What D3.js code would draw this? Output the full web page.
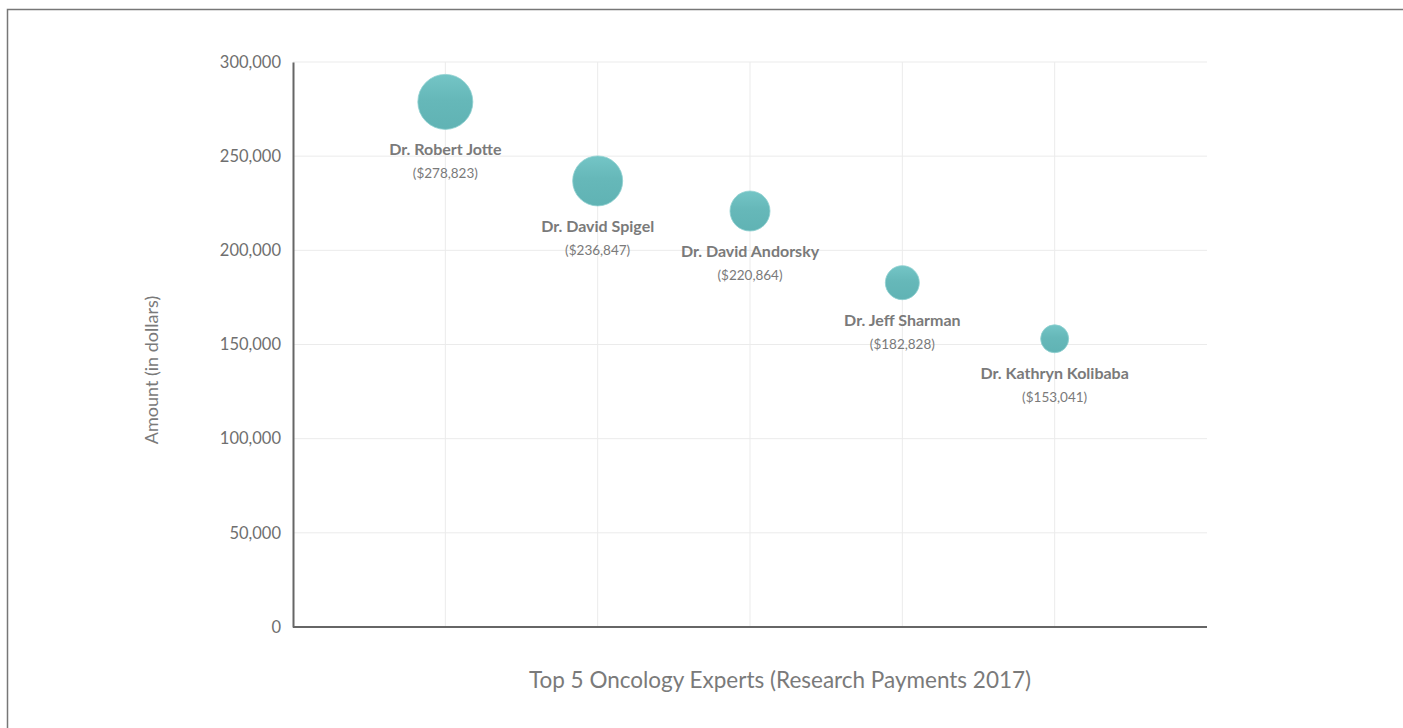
<!DOCTYPE html>
<html>
<head>
<meta charset="utf-8">
<script src="https://cdn.jsdelivr.net/npm/d3@7"></script>
<style>
  body { margin: 0; background: #fff; }
  svg { display: block; font-family: Lato, "Open Sans", sans-serif; }
  .tick text { fill: #6f6f6f; font-size: 16.5px; font-family: Lato, "Open Sans", sans-serif; }
  .name-label { fill: #7a7a7a; font-size: 16px; font-weight: bold; }
  .amount-label { fill: #7a7a7a; font-size: 13.5px; }
  .axis-title { fill: #7a7a7a; }
</style>
</head>
<body>
<div id="main"></div>
<script>
// chart data
var doctors = ['Dr. Robert Jotte', 'Dr. David Spigel', 'Dr. David Andorsky', 'Dr. Jeff Sharman', 'Dr. Kathryn Kolibaba'];
var amounts = [278823, 236847, 220864, 182828, 153041];
var bubbleWeights = [756, 625, 400, 289, 196];
var yTicks = [0, 50000, 100000, 150000, 200000, 250000, 300000];

// layout
var svgWidth = 1403;
var svgHeight = 728;
var padding = { t: 62, l: 293, r: 196, b: 101 };
var chartWidth = svgWidth - padding.l - padding.r;
var chartHeight = svgHeight - padding.t - padding.b;

var svg = d3.select('#main')
  .append('svg')
  .attr('width', svgWidth)
  .attr('height', svgHeight);

// frame (only left and top edges show inside the window)
svg.append('rect')
  .attr('x', 7.5)
  .attr('y', 9.5)
  .attr('width', svgWidth + 20)
  .attr('height', svgHeight + 20)
  .attr('fill', 'none')
  .attr('stroke', '#777')
  .attr('stroke-width', 1.5);

// bubble gradient
var grad = svg.append('defs').append('linearGradient')
  .attr('id', 'bubbleFill')
  .attr('x1', 0).attr('y1', 0).attr('x2', 0).attr('y2', 1);
grad.append('stop').attr('offset', '0%').attr('stop-color', '#74c5c6');
grad.append('stop').attr('offset', '45%').attr('stop-color', '#66b8b9');
grad.append('stop').attr('offset', '100%').attr('stop-color', '#60b3b4');

var chartG = svg.append('g')
  .attr('transform', 'translate(' + [padding.l, padding.t] + ')');

var xScale = d3.scaleLinear()
  .domain([0, doctors.length + 1])
  .range([0, chartWidth]);

var yScale = d3.scaleLinear()
  .domain([0, 300000])
  .range([chartHeight, 0]);

var rScale = d3.scaleSqrt()
  .domain([0, d3.max(bubbleWeights)])
  .range([0, 27.5]);

// grid lines
chartG.append('g')
  .selectAll('line')
  .data(yTicks.slice(1))
  .enter()
  .append('line')
  .attr('x1', 0)
  .attr('x2', chartWidth)
  .attr('y1', (d) => yScale(d))
  .attr('y2', (d) => yScale(d))
  .attr('stroke', '#ebebeb');

chartG.append('g')
  .selectAll('line')
  .data(doctors)
  .enter()
  .append('line')
  .attr('x1', (d, i) => xScale(i + 1))
  .attr('x2', (d, i) => xScale(i + 1))
  .attr('y1', 0)
  .attr('y2', chartHeight)
  .attr('stroke', '#ebebeb');

// y axis
var yAxis = d3.axisLeft(yScale)
  .tickValues(yTicks)
  .tickSize(0)
  .tickPadding(12)
  .tickFormat(d3.format(','));

var yAxisG = chartG.append('g').call(yAxis)
  .attr('font-family', null)
  .attr('font-size', null);
yAxisG.select('.domain').attr('stroke', '#666').attr('stroke-width', 2);

// x axis line
chartG.append('line')
  .attr('x1', 0)
  .attr('x2', chartWidth)
  .attr('y1', chartHeight)
  .attr('y2', chartHeight)
  .attr('stroke', '#666')
  .attr('stroke-width', 2);

// axis titles
svg.append('text')
  .attr('class', 'axis-title')
  .attr('transform', 'translate(' + [158, 370] + ') rotate(-90)')
  .attr('text-anchor', 'middle')
  .style('font-size', '18px')
  .text('Amount (in dollars)');

svg.append('text')
  .attr('class', 'axis-title')
  .attr('x', 780)
  .attr('y', 688)
  .attr('text-anchor', 'middle')
  .style('font-size', '22.5px')
  .text('Top 5 Oncology Experts (Research Payments 2017)');

// bubbles
var bubbles = chartG.append('g')
  .selectAll('g')
  .data(doctors)
  .enter()
  .append('g')
  .attr('transform', (d, i) => 'translate(' + [xScale(i + 1), yScale(amounts[i])] + ')');

bubbles.append('circle')
  .attr('r', (d, i) => rScale(bubbleWeights[i]))
  .attr('fill', 'url(#bubbleFill)')
  .attr('stroke', '#8fd0d1')
  .attr('stroke-width', 0.8);

bubbles.append('text')
  .attr('class', 'name-label')
  .attr('text-anchor', 'middle')
  .attr('y', (d, i) => rScale(bubbleWeights[i]) + 26)
  .text((d) => d);

bubbles.append('text')
  .attr('class', 'amount-label')
  .attr('text-anchor', 'middle')
  .attr('y', (d, i) => rScale(bubbleWeights[i]) + 49)
  .text((d, i) => '($' + d3.format(',')(amounts[i]) + ')');
</script>
</body>
</html>
